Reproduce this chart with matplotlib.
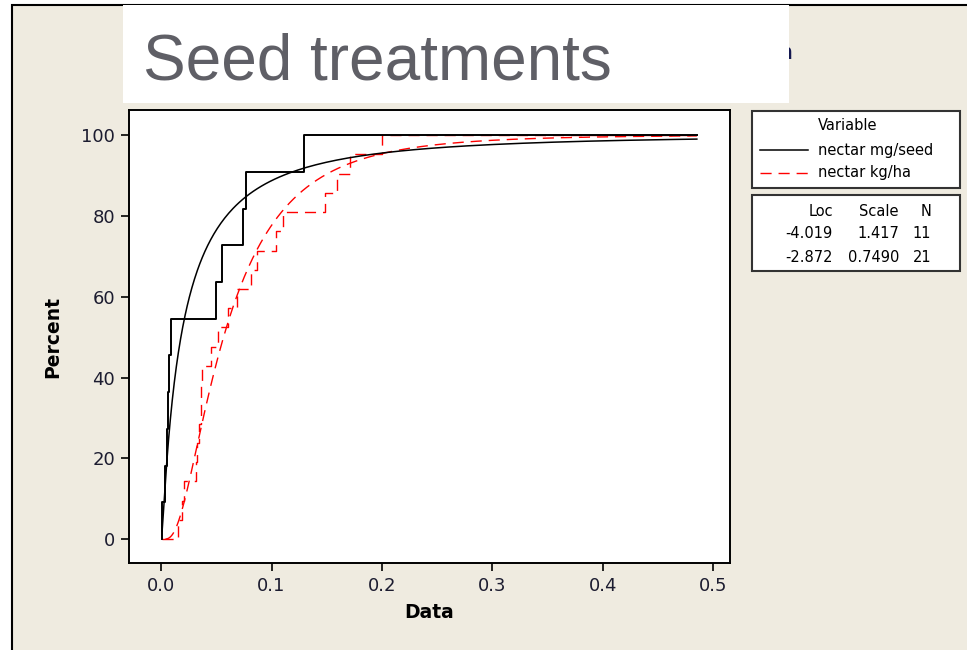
import math
import numpy as np
import matplotlib
matplotlib.use('Agg')
import matplotlib.pyplot as plt
from matplotlib.patches import Rectangle

#  ----------------- data
#
title = 'Seed treatments'
series = ['nectar mg/seed', 'nectar kg/ha']
mg_seed = [0.0013, 0.004, 0.0055, 0.0066, 0.0074, 0.009,
           0.0495, 0.055, 0.0738, 0.0765, 0.129]
kg_ha = [0.0155, 0.019, 0.021, 0.032, 0.033, 0.034, 0.036, 0.0365, 0.037,
         0.0455, 0.052, 0.0605, 0.0685, 0.0814, 0.087, 0.104, 0.110,
         0.148, 0.159, 0.171, 0.200]
loc = [-4.019, -2.872]
scale = [1.417, 0.7490]
counts = [11, 21]
fit_start = [0.001, 0.004]
x_end = 0.485
x_ticks = [0.0, 0.1, 0.2, 0.3, 0.4, 0.5]
y_ticks = [0, 20, 40, 60, 80, 100]

colors = ['black', 'red']
bg = '#efebe0'
tick_col = '#1c1c30'


#  ----------------- functions
#
def lognorm_cdf(x, mu, sigma):
	z = (np.log(x) - mu) / sigma
	return np.array([50.0 * (1.0 + math.erf(v / math.sqrt(2.0))) for v in z])


def ecdf(vals, start, end):
	v = sorted(vals)
	n = len(v)
	xs = [start] + v + [end]
	ys = [0.0] + [100.0 * (i + 1) / n for i in range(n)] + [100.0]
	return xs, ys


#  ----------------- figure
#
fig = plt.figure(figsize=(9.67, 6.5), dpi=100)
fig.patch.set_facecolor('white')

# overlay in pixel units for the frame, title box and legend boxes
ov = fig.add_axes([0, 0, 1, 1])
ov.set_xlim(0, 967)
ov.set_ylim(650, 0)
ov.axis('off')
ov.add_patch(Rectangle((12, 5), 1000, 700, facecolor=bg, edgecolor='black', lw=1.5))
ov.text(777, 53, 'n', fontsize=15, fontweight='bold', color='#141850', va='center', ha='left', zorder=1)
ov.add_patch(Rectangle((123, 5), 666, 98, facecolor='white', edgecolor='none', zorder=2))
ov.text(143, 80, title, fontsize=46, color='#5f5f66', family='Liberation Sans', va='baseline', ha='left', zorder=3)

ax = fig.add_axes([129 / 967, 1 - 563 / 650, (730 - 129) / 967, (563 - 110) / 650])
ax.set_facecolor('white')

start = min(min(mg_seed), min(kg_ha))
data = [mg_seed, kg_ha]
for i in range(2):
	xs, ys = ecdf(data[i], start if i == 1 else min(data[i]), x_end)
	xf = np.geomspace(fit_start[i], x_end, 300)
	yf = lognorm_cdf(xf, loc[i], scale[i])
	if i == 0:
		ax.step(xs, ys, where='post', color='black', lw=1.4, zorder=3)
		ax.plot(xf, yf, color='black', lw=1.1, zorder=3)
	else:
		ax.step(xs, ys, where='post', color='red', lw=1.0, dashes=(8, 5), zorder=2)
		ax.plot(xf, yf, color='red', lw=1.0, dashes=(8, 5), zorder=2)

ax.set_xlim(-0.029, 0.515)
ax.set_ylim(-5.9, 106.2)
ax.set_xticks(x_ticks)
ax.set_xticklabels(['{0:.1f}'.format(t) for t in x_ticks])
ax.set_yticks(y_ticks)
ax.tick_params(direction='out', length=6, width=1.2, labelsize=13, labelcolor=tick_col, pad=4)
for s in ax.spines.values():
	s.set_linewidth(1.4)
ax.set_xlabel('Data', fontsize=13.5, fontweight='bold', labelpad=6)
ax.set_ylabel('Percent', fontsize=13.5, fontweight='bold', labelpad=14)

# legend boxes
ov.add_patch(Rectangle((752, 111), 208, 77, facecolor='white', edgecolor='#333333', lw=1.5, zorder=2))
ov.text(848, 126, 'Variable', fontsize=10.5, ha='center', va='center', zorder=3)
ov.plot([760, 808], [150, 150], color='black', lw=1.1, zorder=3)
ov.plot([760, 808], [173, 173], color='red', lw=1.0, dashes=(8, 5), zorder=3)
for k in range(2):
	ov.text(818, 150 + 23 * k, series[k], fontsize=10.5, ha='left', va='center', zorder=3)

ov.add_patch(Rectangle((752, 195), 208, 76, facecolor='white', edgecolor='#333333', lw=1.5, zorder=2))
ov.text(833, 211, 'Loc', fontsize=10.5, ha='right', va='center', zorder=3)
ov.text(899, 211, 'Scale', fontsize=10.5, ha='right', va='center', zorder=3)
ov.text(931, 211, 'N', fontsize=10.5, ha='right', va='center', zorder=3)
for k in range(2):
	y = 234 + 23 * k
	ov.text(833, y, '{0:.3f}'.format(loc[k]), fontsize=10.5, ha='right', va='center', zorder=3)
	sc = '{0:.3f}'.format(scale[k]) if k == 0 else '{0:.4f}'.format(scale[k])
	ov.text(899, y, sc, fontsize=10.5, ha='right', va='center', zorder=3)
	ov.text(931, y, str(counts[k]), fontsize=10.5, ha='right', va='center', zorder=3)

fig.savefig('out.png', dpi=100, facecolor=fig.get_facecolor())
